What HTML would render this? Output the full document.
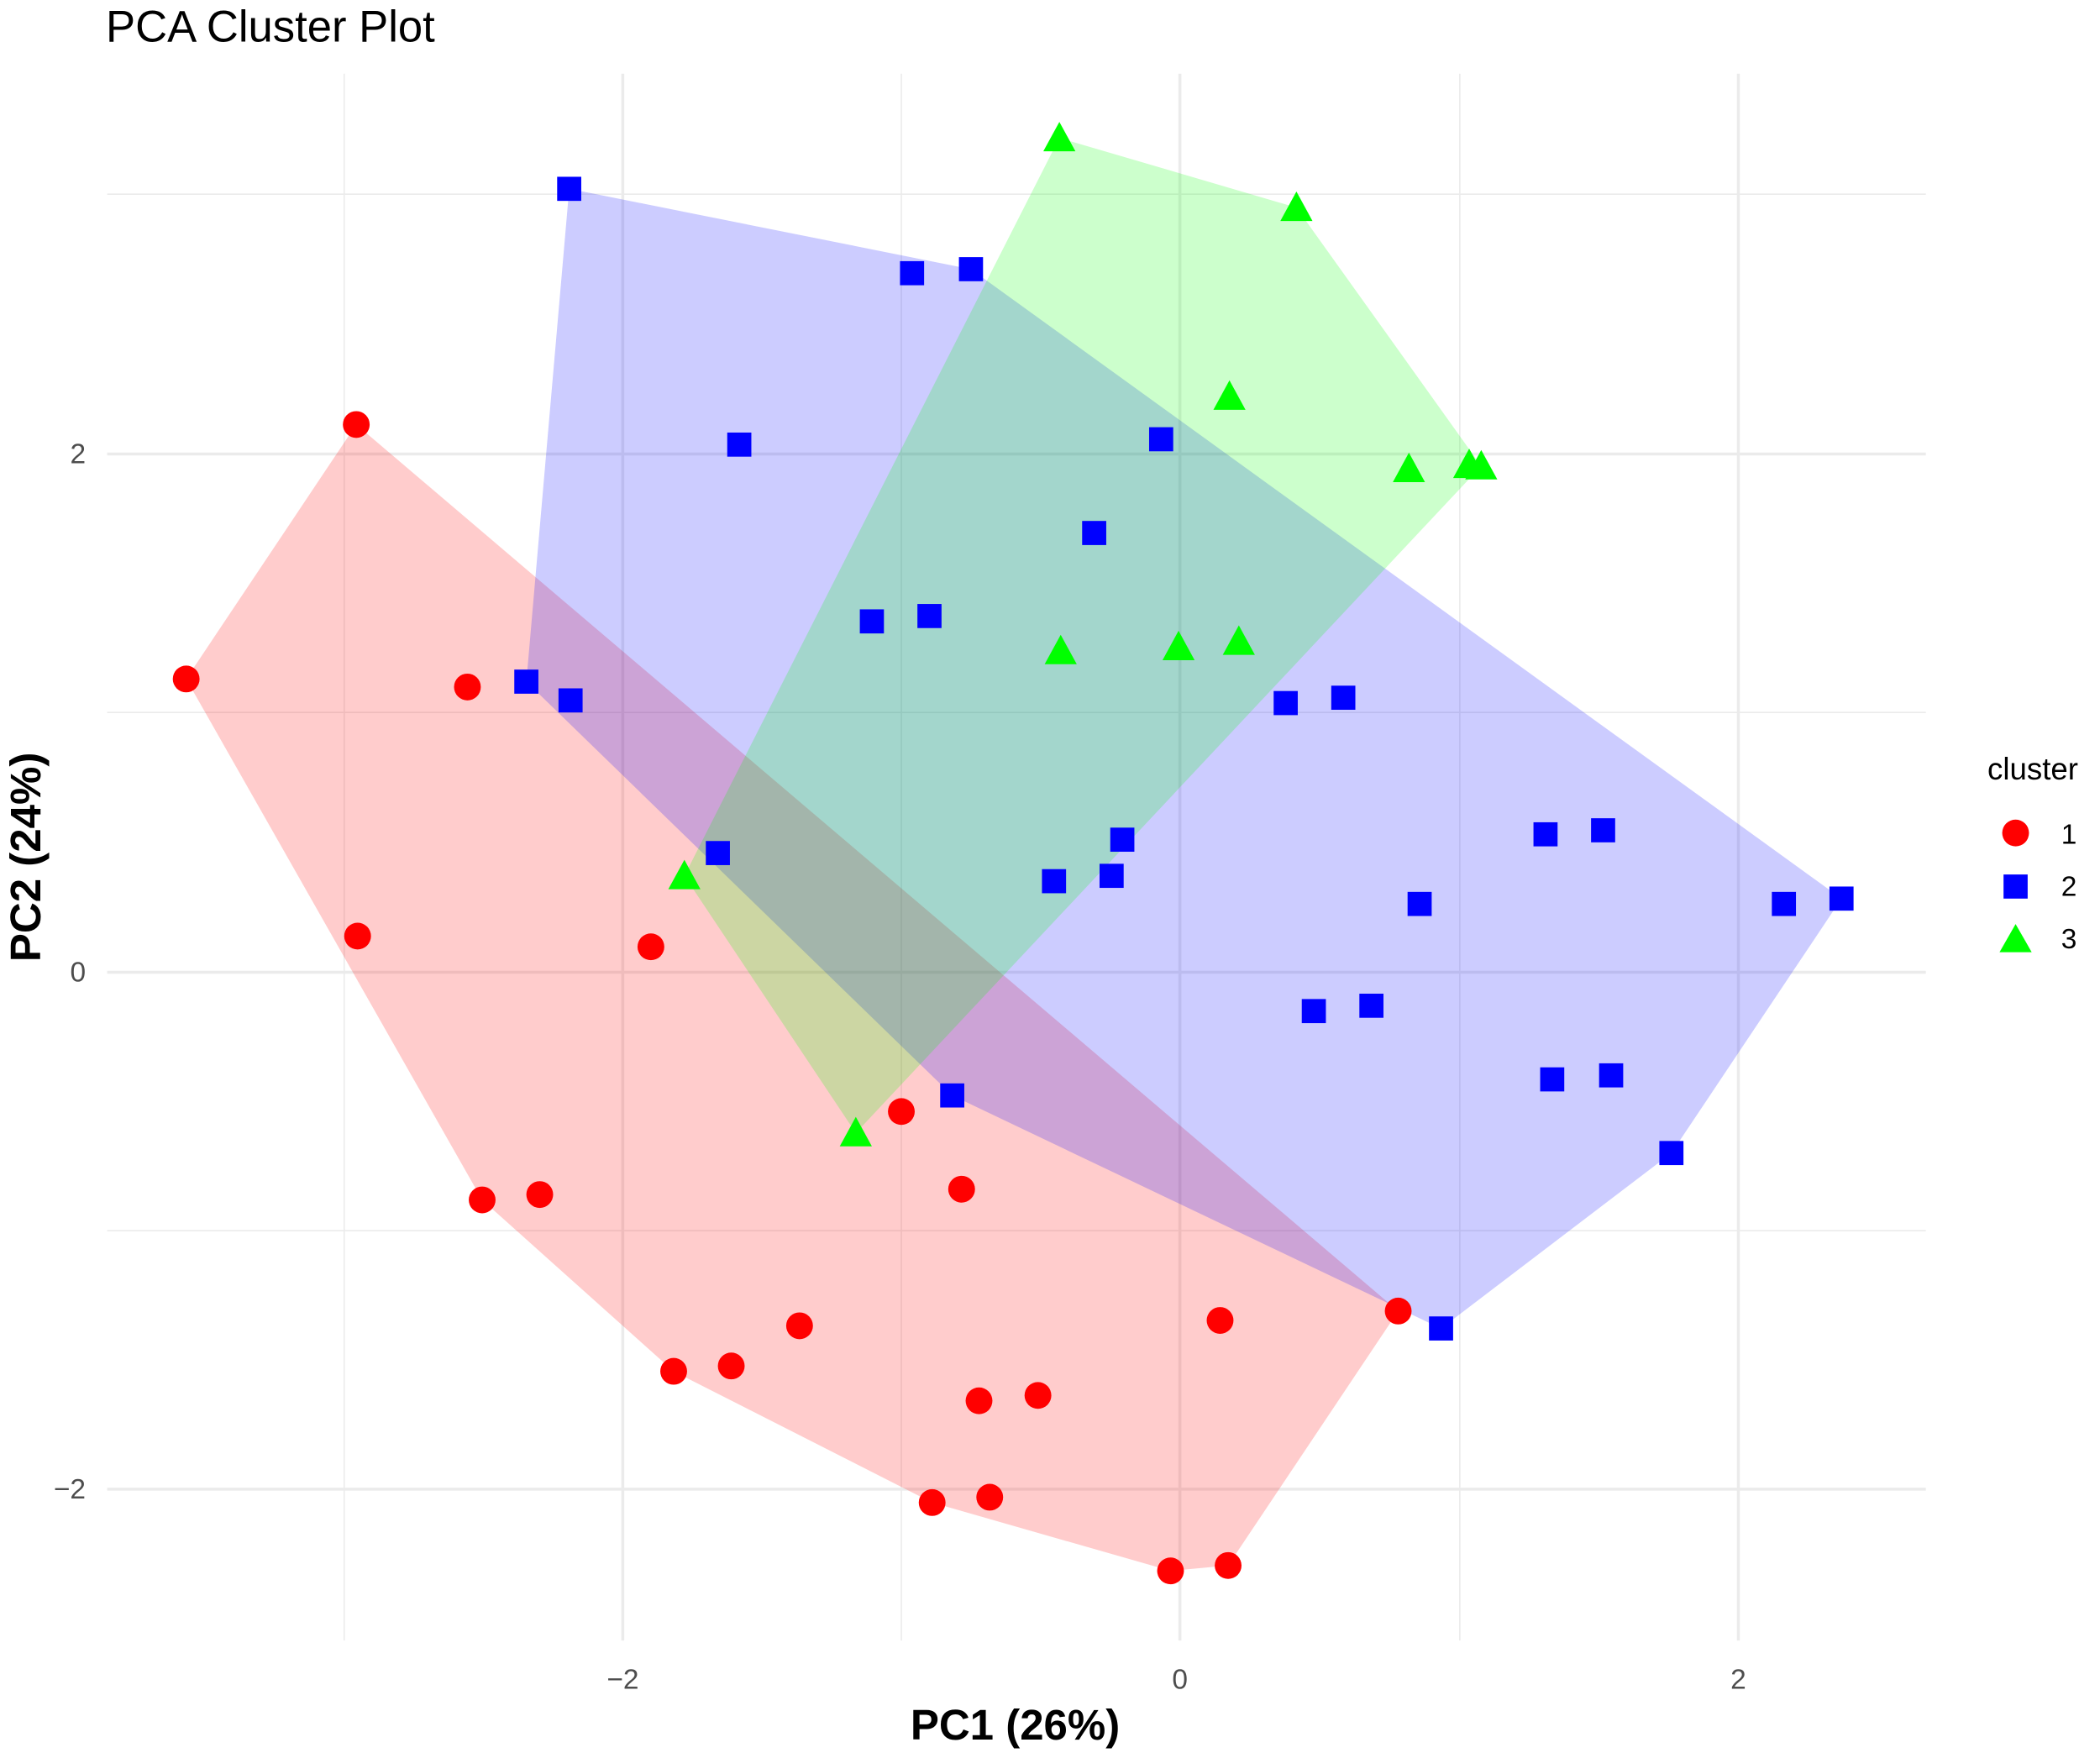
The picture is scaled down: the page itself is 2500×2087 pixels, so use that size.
<!DOCTYPE html>
<html><head><meta charset="utf-8"><style>html,body{margin:0;padding:0;background:#fff}svg{display:block}</style></head>
<body>
<svg width="2500" height="2087" viewBox="0 0 1568 1309" xmlns="http://www.w3.org/2000/svg" font-family="Liberation Sans, sans-serif">
<rect width="1568" height="1309" fill="#fff"/>
<g stroke="#ebebeb" stroke-width="1">
<line x1="257" y1="55" x2="257" y2="1225"/><line x1="673" y1="55" x2="673" y2="1225"/><line x1="1090" y1="55" x2="1090" y2="1225"/>
<line x1="80" y1="145" x2="1438" y2="145"/><line x1="80" y1="532" x2="1438" y2="532"/><line x1="80" y1="919" x2="1438" y2="919"/>
</g>
<g stroke="#ebebeb" stroke-width="2.2">
<line x1="465" y1="55" x2="465" y2="1225"/><line x1="881" y1="55" x2="881" y2="1225"/><line x1="1298" y1="55" x2="1298" y2="1225"/>
<line x1="80" y1="339" x2="1438" y2="339"/><line x1="80" y1="726" x2="1438" y2="726"/><line x1="80" y1="1112" x2="1438" y2="1112"/>
</g>
<polygon points="266,317 1044,979 917,1169 874,1173 696,1122 503,1024 360,896 139,507" fill="#ff0000" fill-opacity="0.2"/>
<polygon points="425,141 725,201 1375,671 1248,861 1076,992 711,818 393,509" fill="#0000ff" fill-opacity="0.2"/>
<polygon points="791,103 968,155 1106,348 639,846 511,654" fill="#00ff00" fill-opacity="0.2"/>
<g fill="#ff0000">
<circle cx="266" cy="317" r="10"/><circle cx="139" cy="507" r="10"/><circle cx="349" cy="513" r="10"/><circle cx="267" cy="699" r="10"/><circle cx="486" cy="707" r="10"/><circle cx="673" cy="830" r="10"/><circle cx="718" cy="888" r="10"/><circle cx="360" cy="896" r="10"/><circle cx="403" cy="892" r="10"/><circle cx="597" cy="990" r="10"/><circle cx="503" cy="1024" r="10"/><circle cx="546" cy="1020" r="10"/><circle cx="731" cy="1046" r="10"/><circle cx="775" cy="1042" r="10"/><circle cx="911" cy="986" r="10"/><circle cx="1044" cy="979" r="10"/><circle cx="696" cy="1122" r="10"/><circle cx="739" cy="1118" r="10"/><circle cx="874" cy="1173" r="10"/><circle cx="917" cy="1169" r="10"/>
</g>
<g fill="#0000ff">
<rect x="416" y="132" width="18" height="18"/><rect x="672" y="195" width="18" height="18"/><rect x="716" y="192" width="18" height="18"/><rect x="543" y="323" width="18" height="18"/><rect x="858" y="319" width="18" height="18"/><rect x="808" y="389" width="18" height="18"/><rect x="642" y="455" width="18" height="18"/><rect x="685" y="451" width="18" height="18"/><rect x="384" y="500" width="18" height="18"/><rect x="417" y="514" width="18" height="18"/><rect x="951" y="516" width="18" height="18"/><rect x="994" y="512" width="18" height="18"/><rect x="527" y="628" width="18" height="18"/><rect x="829" y="618" width="18" height="18"/><rect x="778" y="649" width="18" height="18"/><rect x="821" y="645" width="18" height="18"/><rect x="1145" y="614" width="18" height="18"/><rect x="1188" y="611" width="18" height="18"/><rect x="1051" y="666" width="18" height="18"/><rect x="1323" y="666" width="18" height="18"/><rect x="1366" y="662" width="18" height="18"/><rect x="972" y="746" width="18" height="18"/><rect x="1015" y="742" width="18" height="18"/><rect x="702" y="809" width="18" height="18"/><rect x="1150" y="797" width="18" height="18"/><rect x="1194" y="794" width="18" height="18"/><rect x="1239" y="852" width="18" height="18"/><rect x="1067" y="983" width="18" height="18"/>
</g>
<g fill="#00ff00">
<polygon points="791,91 803,113 779,113"/><polygon points="968,143 980,165 956,165"/><polygon points="918,284 930,306 906,306"/><polygon points="1052,338 1064,360 1040,360"/><polygon points="1097,335 1109,357 1085,357"/><polygon points="1106,336 1118,358 1094,358"/><polygon points="792,474 804,496 780,496"/><polygon points="880,471 892,493 868,493"/><polygon points="925,467 937,489 913,489"/><polygon points="511,642 523,664 499,664"/><polygon points="639,834 651,856 627,856"/>
</g>
<g fill="#4d4d4d" font-size="21">
<text x="465" y="1261" text-anchor="middle">−2</text><text x="881" y="1261" text-anchor="middle">0</text><text x="1298" y="1261" text-anchor="middle">2</text>
<text x="64" y="346" text-anchor="end">2</text><text x="64" y="733" text-anchor="end">0</text><text x="64" y="1119" text-anchor="end">−2</text>
</g>
<text x="79" y="31" font-size="33">PCA Cluster Plot</text>
<text x="758" y="1299" font-size="32" font-weight="bold" text-anchor="middle">PC1 (26%)</text>
<text transform="translate(30,640) rotate(-90)" font-size="32" font-weight="bold" text-anchor="middle">PC2 (24%)</text>
<text x="1484" y="582" font-size="23">cluster</text>
<circle cx="1505" cy="622" r="10" fill="#ff0000"/>
<rect x="1496" y="653" width="18" height="18" fill="#0000ff"/>
<polygon points="1505,690 1517,711 1493,711" fill="#00ff00"/>
<g font-size="21"><text x="1539" y="630">1</text><text x="1539" y="669">2</text><text x="1539" y="708">3</text></g>
</svg>
</body></html>
